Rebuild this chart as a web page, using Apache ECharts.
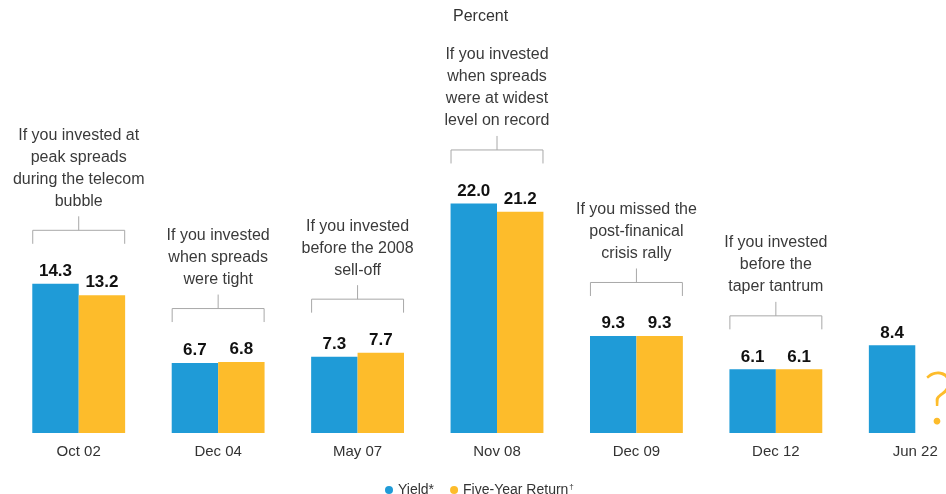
<!DOCTYPE html>
<html>
<head>
<meta charset="utf-8">
<style>
  html, body { margin: 0; padding: 0; background: #ffffff; }
  #chart { width: 946px; height: 494px; }
</style>
<script src="https://cdn.jsdelivr.net/npm/echarts@6/dist/echarts.min.js"></script>
</head>
<body>
<div id="chart"></div>
<script>
// Entry points for high-yield investors and what they earned over five years
const categories = ['Oct 02', 'Dec 04', 'May 07', 'Nov 08', 'Dec 09', 'Dec 12', 'Jun 22'];
const yieldValues = [14.3, 6.7, 7.3, 22.0, 9.3, 6.1, 8.4];
const returnValues = [13.2, 6.8, 7.7, 21.2, 9.3, 6.1, null];
const notes = [
  'If you invested at\npeak spreads\nduring the telecom\nbubble',
  'If you invested\nwhen spreads\nwere tight',
  'If you invested\nbefore the 2008\nsell-off',
  'If you invested\nwhen spreads\nwere at widest\nlevel on record',
  'If you missed the\npost-finanical\ncrisis rally',
  'If you invested\nbefore the\ntaper tantrum',
  ''
];
const seriesNames = ['Yield*', 'Five-Year Return\u2020'];

const BLUE = '#1f9bd7';
const GOLD = '#fdbc2b';
const FONT = '"Liberation Sans", Arial, sans-serif';

// One annotation item per category: index plus the taller of the two bars
const noteData = categories.map((c, i) => [i, Math.max(yieldValues[i], returnValues[i] == null ? 0 : returnValues[i])]);

function renderNote(params, api) {
  const i = api.value(0);
  const top = api.coord([i, api.value(1)]);
  const band = api.size([1, 0])[0];
  const half = band / 3;
  const cx = top[0];
  const children = [];
  const note = notes[i];
  if (note) {
    const yb = top[1] - 40;
    const yh = yb - 13.5;
    const ys = yh - 14;
    const lineStyle = { stroke: '#a8a8a8', lineWidth: 1, fill: null };
    children.push({
      type: 'polyline',
      shape: { points: [[cx - half + 0.5, yb], [cx - half + 0.5, yh], [cx + half - 0.5, yh], [cx + half - 0.5, yb]] },
      style: lineStyle
    });
    children.push({
      type: 'line',
      shape: { x1: cx, y1: yh, x2: cx, y2: ys },
      style: lineStyle
    });
    children.push({
      type: 'text',
      x: cx,
      y: ys - 4,
      style: {
        text: note,
        font: '16px ' + FONT,
        fill: '#3a3a3a',
        align: 'center',
        verticalAlign: 'bottom',
        lineHeight: 22
      }
    });
  }
  if (returnValues[i] == null) {
    // Unknown five-year return: question mark in the empty slot
    const base = api.coord([i, 0]);
    children.push({
      type: 'text',
      x: cx + half / 2,
      y: base[1] + 4,
      style: {
        text: '?',
        font: '300 72px Lato, "Liberation Sans", sans-serif',
        fill: GOLD,
        align: 'center',
        verticalAlign: 'bottom'
      }
    });
  }
  return { type: 'group', children: children };
}

const valueLabel = {
  show: true,
  position: 'top',
  distance: 4,
  color: '#111111',
  fontFamily: FONT,
  fontWeight: 'bold',
  fontSize: 17,
  formatter: p => (p.value == null ? '' : Number(p.value).toFixed(1))
};

const chart = echarts.init(document.getElementById('chart'), null, { renderer: 'canvas' });
chart.setOption({
  animation: false,
  backgroundColor: '#ffffff',
  textStyle: { fontFamily: FONT },
  title: {
    text: 'Percent',
    left: 448,
    top: 4,
    textStyle: { fontSize: 16, fontWeight: 'normal', color: '#333333', fontFamily: FONT }
  },
  legend: {
    data: seriesNames,
    left: 380,
    top: 478,
    icon: 'circle',
    itemWidth: 8,
    itemHeight: 8,
    itemGap: 16,
    formatter: name => name.replace('\u2020', '{s|\u2020}'),
    textStyle: {
      fontSize: 14,
      color: '#333333',
      fontFamily: FONT,
      rich: { s: { fontSize: 8, color: '#333333', verticalAlign: 'top', padding: [0, 0, 6, 1] } }
    }
  },
  grid: { left: 9, right: -39, top: 120, bottom: 61, outerBoundsMode: 'none', containLabel: false },
  xAxis: {
    type: 'category',
    data: categories,
    axisLine: { show: false },
    axisTick: { show: false },
    axisLabel: { color: '#333333', fontSize: 15, margin: 11, fontFamily: FONT }
  },
  yAxis: {
    type: 'value',
    min: 0,
    max: 30,
    show: false,
    splitLine: { show: false }
  },
  series: [
    {
      name: seriesNames[0],
      type: 'bar',
      data: yieldValues,
      barWidth: '33.3%',
      barGap: '0%',
      itemStyle: { color: BLUE },
      label: valueLabel
    },
    {
      name: seriesNames[1],
      type: 'bar',
      data: returnValues,
      barWidth: '33.3%',
      barGap: '0%',
      itemStyle: { color: GOLD },
      label: valueLabel
    },
    {
      name: 'notes',
      type: 'custom',
      data: noteData,
      renderItem: renderNote,
      silent: true,
      z: 5
    }
  ]
});
</script>
</body>
</html>
